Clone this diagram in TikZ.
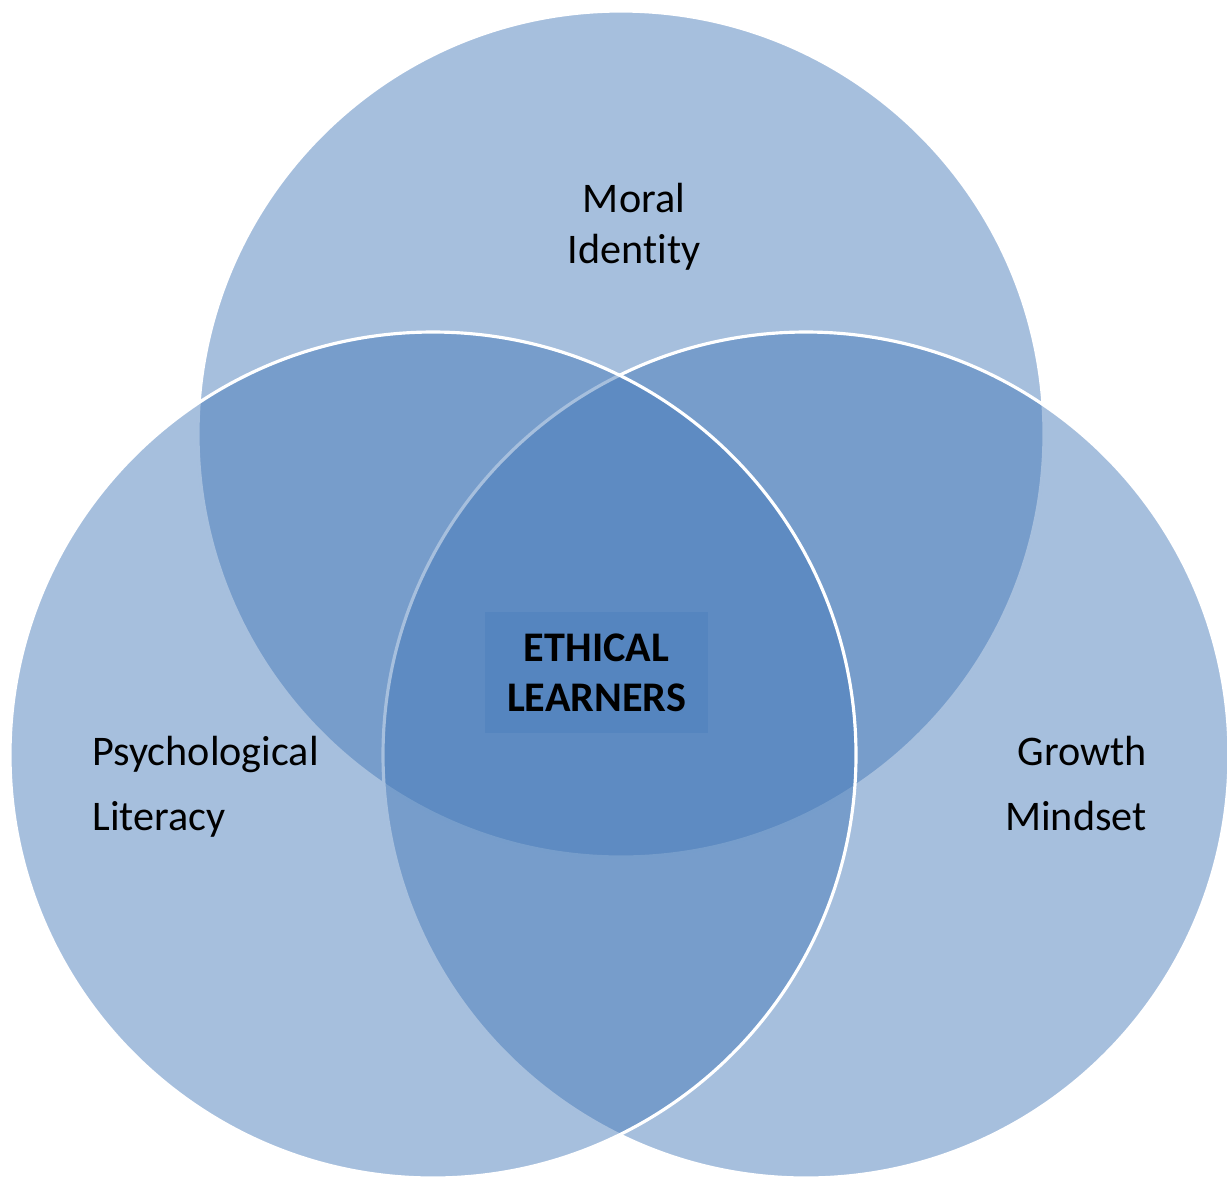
\documentclass[tikz,border=0pt]{standalone}
\usepackage{fontspec}
\setmainfont{Carlito}[Ligatures=NoCommon]
\definecolor{venn}{RGB}{66,119,183}
\definecolor{core}{RGB}{85,133,191}
\begin{document}
\begin{tikzpicture}
        [
            set/.style = {circle, draw=white, line width=1.8pt, fill=venn, fill opacity=0.47, minimum size=16.92cm, inner sep=0pt, outer sep=0pt},
            tag/.style = {inner sep=0pt, font=\fontsize{24pt}{29pt}\selectfont},
        ]
        \useasboundingbox (0,0) rectangle (24.54,-23.54);
        % the three sets, top one first so the lower ones sit over it
        \node [set] (moral) at (12.42,-8.68) {};
        \node [set] (growth) at (16.12,-15.10) {};
        \node [set] (psych) at (8.66,-15.10) {};
        % shared core
        \node [fill=core, minimum width=4.46cm, minimum height=2.42cm, inner sep=0pt, align=center,
               font=\fontsize{24pt}{28.5pt}\selectfont\bfseries] (ethical) at (11.93,-13.45) {ETHICAL\\LEARNERS};
        % labels, placed by the baseline of their last line
        \node [tag, align=center, anchor=base] (moraltxt) at (12.68,-5.26) {Moral\\Identity};
        \node [tag, align=left, anchor=base west, font=\fontsize{24pt}{37pt}\selectfont] (psychtxt) at (1.84,-16.60) {Psychological\\Literacy};
        \node [tag, align=right, anchor=base east, font=\fontsize{24pt}{37pt}\selectfont] (growthtxt) at (22.94,-16.60) {Growth\\Mindset};
    \end{tikzpicture}
\end{document}
